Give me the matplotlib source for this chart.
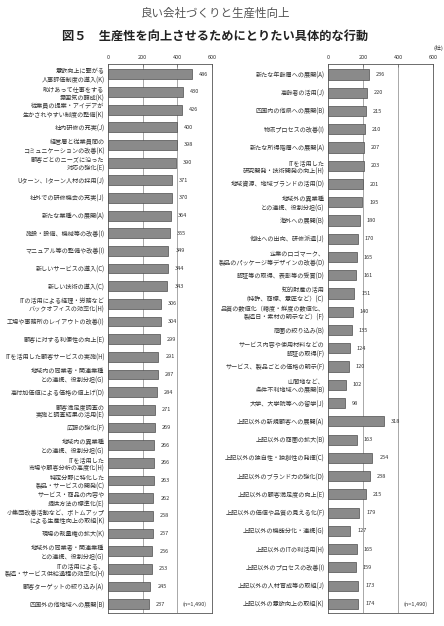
import matplotlib
matplotlib.use("Agg")
import matplotlib.pyplot as plt

plt.rcParams['font.family'] = ['Noto Sans CJK JP', 'DejaVu Sans']

left_labels = [
    "意欲向上に繋がる\n人事評価制度の導入(K)",
    "助けあって仕事をする\n雰囲気の醸成(K)",
    "従業員の提案・アイデアが\n生かされやすい制度の整備(K)",
    "社内研修の充実(J)",
    "経営層と従業員間の\nコミュニケーションの改善(K)",
    "顧客ごとのニーズに沿った\n対応の強化(E)",
    "Uターン、Iターン人材の採用(J)",
    "社外での研修機会の充実(J)",
    "新たな業種への展開(A)",
    "施設・設備、機械等の改善(I)",
    "マニュアル等の整備や改善(I)",
    "新しいサービスの導入(C)",
    "新しい技術の導入(C)",
    "ITの活用による経理・労務など\nバックオフィスの効率化(H)",
    "工場や事務所のレイアウトの改善(I)",
    "顧客に対する利便性の向上(E)",
    "ITを活用した顧客サービスの実施(H)",
    "地域内の同業者・関連業種\nとの連携、役割分担(G)",
    "高付加価値による価格の値上げ(D)",
    "顧客満足度調査の\n実施と調査結果の活用(E)",
    "広報の強化(F)",
    "地域内の異業種\nとの連携、役割分担(G)",
    "ITを活用した\n市場や顧客分析の高度化(H)",
    "特定分野に特化した\n製品・サービスの開発(C)",
    "サービス・商品の内容や\n提供方法の標準化(E)",
    "小集団改善活動など、ボトムアップ\nによる生産性向上の取組(K)",
    "現場の裁量権の拡大(K)",
    "地域外の同業者・関連業種\nとの連携、役割分担(G)",
    "ITの活用による、\n製造・サービス供給過程の効率化(H)",
    "顧客ターゲットの絞り込み(A)",
    "四国外の他地域への展開(B)",
]
left_values = [486, 430, 426, 400, 398, 390, 371, 370, 364, 355, 349, 344, 343,
               306, 304, 299, 291, 287, 284, 271, 269, 266, 266, 263, 262, 258,
               257, 256, 253, 245, 237]

right_labels = [
    "新たな年齢層への展開(A)",
    "高齢者の活用(J)",
    "四国内の他県への展開(B)",
    "物流プロセスの改善(I)",
    "新たな所得階層への展開(A)",
    "ITを活用した\n研究開発・技術開発の向上(H)",
    "地域資源、地域ブランドの活用(D)",
    "地域外の異業種\nとの連携、役割分担(G)",
    "海外への展開(B)",
    "他社への出向、研修派遣(J)",
    "企業のロゴマーク、\n製品のパッケージ等デザインの改善(D)",
    "認証等の取得、表彰等の受賞(D)",
    "知的財産の活用\n（特許、商標、意匠など）(C)",
    "品質の数値化（糖度・鮮度の数値化、\n製造日・素材の明示など）(F)",
    "商圏の絞り込み(B)",
    "サービス内容や使用材料などの\n認証の取得(F)",
    "サービス、製品ごとの価格の明示(F)",
    "山間地など、\n条件不利地域への展開(B)",
    "大学、大学院等への留学(J)",
    "上記以外の新規顧客への展開(A)",
    "上記以外の商圏の拡大(B)",
    "上記以外の独自性・独創性の発揮(C)",
    "上記以外のブランド力の強化(D)",
    "上記以外の顧客満足度の向上(E)",
    "上記以外の価値や品質の見える化(F)",
    "上記以外の機能分化・連携(G)",
    "上記以外のITの利活用(H)",
    "上記以外のプロセスの改善(I)",
    "上記以外の人材育成等の取組(J)",
    "上記以外の意欲向上の取組(K)",
]
right_values = [236, 220, 215, 210, 207, 203, 201, 195, 180, 170, 165, 161, 151,
                140, 135, 124, 120, 102, 98, 318, 163, 254, 238, 215, 179, 127,
                165, 159, 173, 174]

x_ticks = [0, 200, 400, 600]
header = "良い会社づくりと生産性向上"
title = "図５　生産性を向上させるためにとりたい具体的な行動"
n_note = "(n=1,490)"
unit = "(社)"

W, H = 444, 626
fig = plt.figure(figsize=(W / 100, H / 100), dpi=100)

bar_color = "#8a8a8a"
edge_color = "#4d4d4d"


def fig_rect(x0, y0, x1, y1):
    return [x0 / W, 1 - y1 / H, (x1 - x0) / W, (y1 - y0) / H]


def draw(ax, labels, values):
    n = len(labels)
    pos = list(range(n))
    ax.set_axisbelow(True)
    for xv in x_ticks[1:-1]:
        ax.axvline(xv, color="#9a9a9a", lw=0.6, zorder=0)
    ax.barh(pos, values, height=0.56, color=bar_color, edgecolor=edge_color,
            linewidth=0.5, zorder=2)
    for p, v in zip(pos, values):
        ax.annotate(str(v), (v, p), xytext=(5, 0), textcoords="offset points",
                    va="center", ha="left", fontsize=4.0, color="#333333")
    ax.set_xlim(0, 600)
    ax.set_ylim(n - 0.5, -0.58)
    ax.set_yticks(pos)
    ax.set_yticklabels(labels, fontsize=4.4, color="#333333", linespacing=1.2)
    ax.tick_params(axis="y", length=0, pad=2.5)
    ax.xaxis.tick_top()
    ax.set_xticks(x_ticks)
    ax.tick_params(axis="x", length=2, direction="in", width=0.5, pad=3,
                   labelsize=4.0, labelcolor="#333333", color="#666666")
    for s in ax.spines.values():
        s.set_linewidth(0.6)
        s.set_color("#555555")
    ax.text(0.95, n - 1, n_note, transform=ax.get_yaxis_transform(),
            fontsize=4.0, ha="right", va="center", color="#333333")


axL = fig.add_axes(fig_rect(108, 64, 212, 613))
axR = fig.add_axes(fig_rect(328, 64, 433, 613))
draw(axL, left_labels, left_values)
draw(axR, right_labels, right_values)

fig.text(215 / W, 1 - 13 / H, header, fontsize=8.3, color="#555555",
         ha="center", va="center")
fig.text(215 / W, 1 - 36 / H, title, fontsize=8.8, fontweight="bold",
         color="#222222", ha="center", va="center")
fig.text(433 / W, 1 - 48 / H, unit, fontsize=4.2, color="#333333",
         ha="left", va="center")

fig.savefig("out.png", dpi=100)
